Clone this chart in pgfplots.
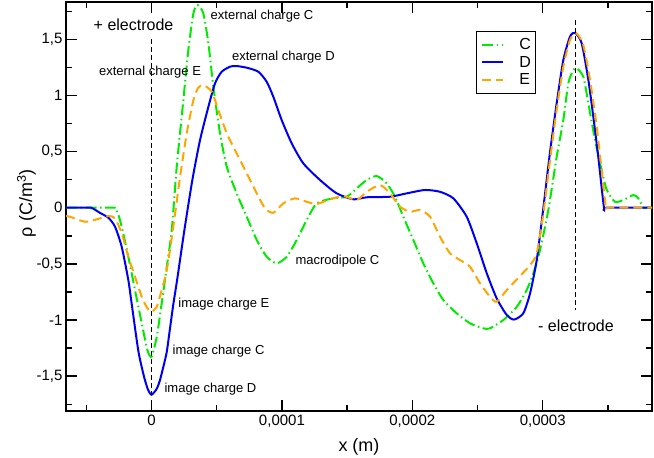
\documentclass[border=0pt]{standalone}
\usepackage{fontspec}
\setmainfont{Liberation Sans}
\usepackage{pgfplots}
\usepackage{pgfplotstable}
\pgfplotsset{compat=1.18}
\definecolor{cgreen}{RGB}{0,235,0}
\definecolor{cblue}{RGB}{0,0,240}
\definecolor{corange}{RGB}{255,165,0}

\pgfplotstableread{
x y
-0.656e-4 0
-0.500e-4 0
-0.464e-4 0
-0.430e-4 -0.020
-0.397e-4 -0.045
-0.331e-4 -0.089
-0.280e-4 -0.169
-0.229e-4 -0.347
-0.178e-4 -0.644
-0.152e-4 -0.858
-0.101e-4 -1.276
-0.0575e-4 -1.505
-0.027e-4 -1.620
0.000e-4 -1.665
0.040e-4 -1.612
0.065e-4 -1.534
0.092e-4 -1.410
0.117e-4 -1.282
0.142e-4 -1.071
0.167e-4 -0.860
0.196e-4 -0.644
0.252e-4 -0.199
0.313e-4 0.247
0.372e-4 0.603
0.436e-4 0.899
0.487e-4 1.108
0.538e-4 1.211
0.602e-4 1.256
0.648e-4 1.262
0.730e-4 1.247
0.819e-4 1.211
0.883e-4 1.122
0.934e-4 0.988
0.998e-4 0.781
1.075e-4 0.573
1.164e-4 0.395
1.292e-4 0.247
1.420e-4 0.128
1.548e-4 0.075
1.650e-4 0.093
1.829e-4 0.098
1.957e-4 0.128
2.097e-4 0.158
2.212e-4 0.142
2.314e-4 0.084
2.417e-4 -0.080
2.494e-4 -0.317
2.571e-4 -0.584
2.647e-4 -0.807
2.724e-4 -0.955
2.780e-4 -0.996
2.851e-4 -0.940
2.903e-4 -0.762
2.954e-4 -0.466
3.005e-4 0.000
3.056e-4 0.496
3.107e-4 0.930
3.158e-4 1.315
3.209e-4 1.523
3.248e-4 1.558
3.299e-4 1.464
3.350e-4 1.137
3.388e-4 0.810
3.426e-4 0.454
3.470e-4 0.000
3.490e-4 0
3.838e-4 0
}\tabD

\pgfplotstableread{
x y
-0.656e-4 0
-0.300e-4 0
-0.280e-4 0
-0.255e-4 -0.060
-0.229e-4 -0.169
-0.178e-4 -0.436
-0.127e-4 -0.733
-0.075e-4 -1.029
-0.032e-4 -1.267
0.000e-4 -1.327
0.040e-4 -1.149
0.078e-4 -0.851
0.117e-4 -0.525
0.155e-4 -0.199
0.193e-4 0.365
0.244e-4 0.959
0.282e-4 1.404
0.321e-4 1.731
0.353e-4 1.805
0.397e-4 1.731
0.436e-4 1.464
0.474e-4 1.077
0.525e-4 0.663
0.577e-4 0.365
0.653e-4 0.128
0.730e-4 -0.080
0.807e-4 -0.288
0.883e-4 -0.436
0.960e-4 -0.495
1.037e-4 -0.436
1.113e-4 -0.288
1.190e-4 -0.110
1.267e-4 0.039
1.394e-4 0.084
1.497e-4 0.098
1.574e-4 0.173
1.650e-4 0.247
1.727e-4 0.282
1.804e-4 0.217
1.867e-4 0.098
1.931e-4 -0.080
2.008e-4 -0.288
2.084e-4 -0.495
2.161e-4 -0.673
2.238e-4 -0.822
2.340e-4 -0.940
2.442e-4 -1.029
2.544e-4 -1.074
2.596e-4 -1.074
2.698e-4 -1.000
2.801e-4 -0.882
2.877e-4 -0.733
2.928e-4 -0.584
2.979e-4 -0.377
3.043e-4 -0.020
3.107e-4 0.454
3.158e-4 0.781
3.196e-4 1.108
3.235e-4 1.226
3.261e-4 1.241
3.311e-4 1.167
3.350e-4 0.930
3.401e-4 0.603
3.452e-4 0.336
3.491e-4 0.158
3.554e-4 0.053
3.618e-4 0.069
3.695e-4 0.113
3.733e-4 0.084
3.771e-4 0
3.790e-4 0
3.838e-4 0
}\tabC

\pgfplotstableread{
x y
-0.656e-4 -0.074
-0.625e-4 -0.080
-0.510e-4 -0.125
-0.420e-4 -0.103
-0.331e-4 -0.074
-0.280e-4 -0.094
-0.229e-4 -0.228
-0.178e-4 -0.436
-0.127e-4 -0.614
-0.075e-4 -0.793
-0.032e-4 -0.896
0.000e-4 -0.926
0.040e-4 -0.882
0.078e-4 -0.733
0.117e-4 -0.555
0.167e-4 -0.169
0.219e-4 0.276
0.270e-4 0.663
0.321e-4 0.959
0.357e-4 1.066
0.397e-4 1.093
0.462e-4 1.033
0.512e-4 0.870
0.577e-4 0.663
0.653e-4 0.484
0.730e-4 0.306
0.807e-4 0.128
0.870e-4 -0.005
0.934e-4 -0.045
1.011e-4 0.039
1.100e-4 0.084
1.190e-4 0.053
1.267e-4 0.033
1.369e-4 0.075
1.471e-4 0.104
1.574e-4 0.069
1.650e-4 0.142
1.752e-4 0.202
1.829e-4 0.128
1.906e-4 0.009
1.982e-4 -0.036
2.059e-4 -0.020
2.136e-4 -0.080
2.212e-4 -0.258
2.289e-4 -0.406
2.366e-4 -0.466
2.442e-4 -0.525
2.519e-4 -0.673
2.596e-4 -0.793
2.647e-4 -0.837
2.724e-4 -0.733
2.826e-4 -0.608
2.903e-4 -0.510
2.954e-4 -0.406
3.005e-4 -0.050
3.056e-4 0.425
3.107e-4 0.870
3.158e-4 1.256
3.209e-4 1.493
3.255e-4 1.558
3.311e-4 1.449
3.363e-4 1.137
3.414e-4 0.721
3.452e-4 0.336
3.485e-4 0
3.505e-4 0
3.838e-4 0
}\tabE

\begin{document}
\begin{tikzpicture}
\useasboundingbox (0,0) rectangle (654pt,458pt);
\begin{axis}[
  at={(66pt,47pt)}, anchor=south west,
  scale only axis, width=586pt, height=409pt,
  xmin=-0.656e-4, xmax=3.838e-4, ymin=-1.810, ymax=1.832,
  xtick={0,0.0001,0.0002,0.0003},
  minor xtick={-0.00005,0.00005,0.00015,0.00025,0.00035},
  ytick={-1.5,-1,-0.5,0,0.5,1,1.5},
  minor ytick={-1.75,-1.25,-0.75,-0.25,0.25,0.75,1.25,1.75},
  scaled x ticks=false, scaled y ticks=false,
  tick align=inside,
  major tick length=11pt, minor tick length=6pt,
  tick style={black, line width=1.4pt},
  axis line style={line width=1.6pt},
  xticklabel style={/pgf/number format/fixed, /pgf/number format/precision=4, /pgf/number format/use comma, /pgf/number format/1000 sep={}, /pgf/number format/assume math mode=true},
  yticklabel style={/pgf/number format/fixed, /pgf/number format/precision=2, /pgf/number format/use comma, /pgf/number format/assume math mode=true},
  tick label style={font=\fontsize{15}{18}\selectfont},
  xlabel={x (m)},
  ylabel={ρ (C/m\textsuperscript{3})},
  every axis x label/.style={at={(axis description cs:0.5,-0.088)}, anchor=center, font=\fontsize{18}{21}\selectfont},
  every axis y label/.style={at={(axis description cs:-0.0674,0.508)}, anchor=center, rotate=90, font=\fontsize{18}{21}\selectfont},
  legend style={at={(rel axis cs:0.699,0.930)}, anchor=north west, draw=black, line width=1pt,
    inner xsep=5pt, inner ysep=4.9pt, font=\fontsize{16}{19}\selectfont,
    nodes={inner sep=0pt, text height=13.5pt, text depth=4pt},
    column sep=15.7pt, row sep=0pt},
  legend cell align=left,
  legend image code/.code={\draw[#1] (0pt,0pt) -- (20.6pt,0pt);},
]
\addplot[color=cgreen, line width=2pt, dash pattern=on 11pt off 3.5pt on 1.5pt off 3.5pt, smooth, tension=0.4] table[x=x,y=y] {\tabC};
\addlegendentry{C}
\addplot[color=cblue, line width=2pt, solid, smooth, tension=0.4] table[x=x,y=y] {\tabD};
\addlegendentry{D}
\addplot[color=corange, line width=2pt, dash pattern=on 9pt off 5pt, smooth, tension=0.4] table[x=x,y=y] {\tabE};
\addlegendentry{E}
\addplot[black, line width=0.8pt, dash pattern=on 5pt off 3pt, forget plot] coordinates {(0,1.502) (0,-1.665)};
\addplot[black, line width=0.8pt, dash pattern=on 5pt off 3pt, forget plot] coordinates {(3.253e-4,1.671) (3.253e-4,-0.911)};

\node[font=\fontsize{16}{19}\selectfont, anchor=center] at (axis cs:-0.138e-4,1.627) {+ electrode};
\node[font=\fontsize{16}{19}\selectfont, anchor=center] at (axis cs:3.255e-4,-1.051) {- electrode};
\node[font=\fontsize{13}{15}\selectfont, anchor=center] at (axis cs:-0.0115e-4,1.211) {external charge E};
\node[font=\fontsize{13}{15}\selectfont, anchor=center] at (axis cs:0.847e-4,1.710) {external charge C};
\node[font=\fontsize{13}{15}\selectfont, anchor=center] at (axis cs:1.011e-4,1.345) {external charge D};
\node[font=\fontsize{13}{15}\selectfont, anchor=center] at (axis cs:1.426e-4,-0.475) {macrodipole C};
\node[font=\fontsize{13}{15}\selectfont, anchor=center] at (axis cs:0.555e-4,-0.858) {image charge E};
\node[font=\fontsize{13}{15}\selectfont, anchor=center] at (axis cs:0.514e-4,-1.276) {image charge C};
\node[font=\fontsize{13}{15}\selectfont, anchor=center] at (axis cs:0.452e-4,-1.612) {image charge D};
\end{axis}
\end{tikzpicture}
\end{document}
